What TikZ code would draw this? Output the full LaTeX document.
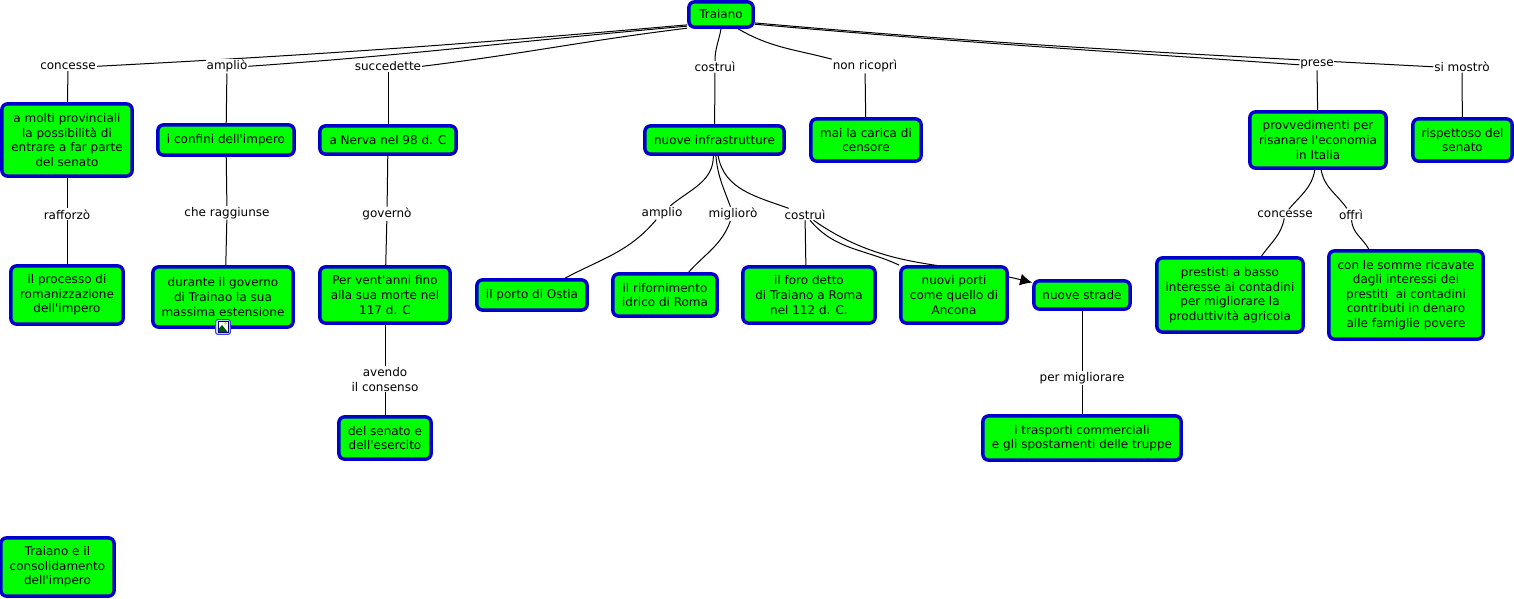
\documentclass[tikz,border=0pt]{standalone}
\usepackage{fontspec}
\setmainfont[Ligatures=TeXOff]{DejaVu Sans}
\usetikzlibrary{arrows.meta, backgrounds}
\definecolor{mapgreen}{RGB}{0, 255, 0}
\definecolor{mapblue}{RGB}{0, 0, 204}
\definecolor{iconsky}{RGB}{205, 228, 245}
\tikzset{
  conceptbox/.style={draw=mapblue, fill=mapgreen, line width=2.6pt, rounded corners=4.5pt,
    align=center, inner sep=0pt, font=\fontsize{9}{10.9}\selectfont},
  linklabel/.style={fill=white, align=center, inner sep=0.6pt, yshift=-0.6pt, font=\fontsize{9}{10.9}\selectfont},
  maplink/.style={black, line width=0.75pt}
}
\begin{document}
\begin{tikzpicture}[x=0.75pt, y=-0.75pt]
    \useasboundingbox (0,0) rectangle (1514,599);

    % concepts
    \node[conceptbox, minimum width=48.25pt, minimum height=19pt] (traiano) at (721,14.5) {Traiano};
    \node[conceptbox, minimum width=97.75pt, minimum height=54.25pt] (molti) at (67,140) {a molti provinciali\\la possibilità di\\entrare a far parte\\del senato};
    \node[conceptbox, minimum width=102.25pt, minimum height=22.75pt] (confini) at (226,140) {i confini dell'impero};
    \node[conceptbox, minimum width=102.25pt, minimum height=21.25pt] (nerva) at (388,140) {a Nerva nel 98 d. C};
    \node[conceptbox, minimum width=104.5pt, minimum height=21.25pt] (infra) at (714.5,140) {nuove infrastrutture};
    \node[conceptbox, minimum width=82.75pt, minimum height=31.75pt] (censore) at (866,140) {mai la carica di\\censore};
    \node[conceptbox, minimum width=102.25pt, minimum height=42.25pt] (provv) at (1318,140) {provvedimenti per\\risanare l'economia\\in Italia};
    \node[conceptbox, minimum width=74.5pt, minimum height=31.75pt] (senato) at (1462.5,140) {rispettoso del\\senato};

    \node[conceptbox, minimum width=84.25pt, minimum height=43.75pt] (romanizza) at (67,295) {il processo di\\romanizzazione\\dell'impero};
    \node[conceptbox, minimum width=105.25pt, minimum height=45.25pt] (governo) at (223,297) {durante il governo\\di Trainao la sua\\massima estensione};
    \node[conceptbox, minimum width=97.75pt, minimum height=42.25pt] (ventanni) at (385,295) {Per vent'anni fino\\alla sua morte nel\\117 d. C};
    \node[conceptbox, minimum width=82.75pt, minimum height=22.75pt] (ostia) at (532,295) {il porto di Ostia};
    \node[conceptbox, minimum width=78.25pt, minimum height=31.75pt] (idrico) at (665,295) {il rifornimento\\idrico di Roma};
    \node[conceptbox, minimum width=99.25pt, minimum height=42.25pt] (foro) at (809,295) {il foro detto\\di Traiano a Roma\\nel 112 d. C.};
    \node[conceptbox, minimum width=79.75pt, minimum height=42.25pt] (porti) at (954,295) {nuovi porti\\come quello di\\Ancona};
    \node[conceptbox, minimum width=72.25pt, minimum height=21.25pt] (strade) at (1082,295) {nuove strade};
    \node[conceptbox, minimum width=109.75pt, minimum height=55.75pt] (prestiti) at (1230,295) {prestisti a basso\\interesse ai contadini\\per migliorare la\\produttività agricola};
    \node[conceptbox, minimum width=115.75pt, minimum height=66.25pt] (somme) at (1406,295) {con le somme ricavate\\dagli interessi dei\\prestiti~ ai contadini\\contributi in denaro\\alle famiglie povere};

    \node[conceptbox, minimum width=69.25pt, minimum height=31.75pt] (esercito) at (385,438) {del senato e\\dell'esercito};
    \node[conceptbox, minimum width=148.75pt, minimum height=33.25pt] (trasporti) at (1082,438) {i trasporti commerciali\\e gli spostamenti delle truppe};
    \node[conceptbox, minimum width=85pt, minimum height=43.75pt] (titolo) at (57.5,567) {Traiano e il\\consolidamento\\dell'impero};

    % link labels
    \node[linklabel] (lconcesse) at (68,65.5) {concesse};
    \node[linklabel] (lamplio) at (227,65.5) {ampliò};
    \node[linklabel] (lsuccede) at (388,65.5) {succedette};
    \node[linklabel] (lcostrui) at (715,66) {costruì};
    \node[linklabel] (lricopri) at (865,65.5) {non ricoprì};
    \node[linklabel] (lprese) at (1317,64) {prese};
    \node[linklabel] (lmostro) at (1462,66) {si mostrò};

    \node[linklabel] (lrafforzo) at (67,213.5) {rafforzò};
    \node[linklabel] (lraggiunse) at (227,212) {che raggiunse};
    \node[linklabel] (lgoverno) at (387,213) {governò};
    \node[linklabel] (lostia) at (662,212) {amplio};
    \node[linklabel] (lmigliora) at (733,213) {migliorò};
    \node[linklabel] (lcostrui2) at (805,213.5) {costruì};
    \node[linklabel] (lconcesse2) at (1285,213) {concesse};
    \node[linklabel] (loffri) at (1351,213.5) {offrì};
    \node[linklabel] (lconsenso) at (385,378.5) {avendo\\il consenso};
    \node[linklabel] (lmigliorare) at (1082,377) {per migliorare};

    % image icon
    \node[draw=mapblue!75, fill=iconsky, line width=0.8pt, rounded corners=1.5pt, minimum size=11pt, inner sep=0pt] (icona) at (223,327) {};
    \fill[white] (218.5,321.5) rectangle (228,332.5);
    \fill[green!35!black] (218.5,332.5) -- (218.5,329) -- (222,325) -- (228,332.5) -- cycle;
    \fill[yellow!80!orange] (225.5,323.5) circle (1.7);
    \draw[blue!50!black, line width=0.5pt] (218.5,321.5) rectangle (228,332.5);

    % connectors
    \begin{scope}[on background layer]
      \draw[maplink] (traiano.197) to[out=185, in=3] (lconcesse.east);
      \draw[maplink] (traiano.199) to[out=185, in=4] (lamplio.east);
      \draw[maplink] (traiano.202) to[out=187, in=7] (lsuccede.east);
      \draw[maplink] (traiano.south) to[out=-100, in=90] (lcostrui);
      \draw[maplink] (traiano.-40) to[out=-30, in=165] (lricopri.north west);
      \draw[maplink] (traiano.-16) to[out=-5, in=176] (lprese.west);
      \draw[maplink] (traiano.-14) to[out=-5, in=177] (lmostro.west);

      \draw[maplink] (lconcesse) -- (molti);
      \draw[maplink] (lamplio) -- (confini);
      \draw[maplink] (lsuccede) -- (nerva);
      \draw[maplink] (lcostrui) -- (infra);
      \draw[maplink] (lricopri) -- (censore);
      \draw[maplink] (lprese) -- (provv);
      \draw[maplink] (lmostro) -- (senato);

      \draw[maplink] (molti) -- (lrafforzo);
      \draw[maplink] (lrafforzo) -- (romanizza);
      \draw[maplink] (confini) -- (lraggiunse);
      \draw[maplink] (lraggiunse) -- (governo.85);
      \draw[maplink] (nerva) -- (lgoverno);
      \draw[maplink] (lgoverno) -- (ventanni);
      \draw[maplink] (ventanni) -- (lconsenso);
      \draw[maplink] (lconsenso) -- (esercito);
      \draw[maplink] (strade) -- (lmigliorare);
      \draw[maplink] (lmigliorare) -- (trasporti);

      \draw[maplink] (infra.-94) to[out=-90, in=40] (lostia);
      \draw[maplink] (lostia) to[out=-130, in=28] (ostia.27);
      \draw[maplink] (infra.-85) to[out=-85, in=110] (lmigliora);
      \draw[maplink] (lmigliora) to[out=-110, in=48] (idrico.44);
      \draw[maplink] (infra.-77) to[out=-80, in=160] (lcostrui2);
      \draw[maplink] (lcostrui2) -- (foro.96);
      \draw[maplink] (lcostrui2) to[out=-50, in=155] (porti.north west);
      \draw[-{Latex[length=9pt, width=9pt]}, maplink] (lcostrui2) to[out=-35, in=166] (strade.166);

      \draw[maplink] (provv.-96) to[out=-100, in=50] (lconcesse2);
      \draw[maplink] (lconcesse2) to[out=-100, in=55] (prestiti.51);
      \draw[maplink] (provv.-84) to[out=-80, in=125] (loffri);
      \draw[maplink] (loffri) to[out=-85, in=120] (somme.129);
    \end{scope}
\end{tikzpicture}
\end{document}
